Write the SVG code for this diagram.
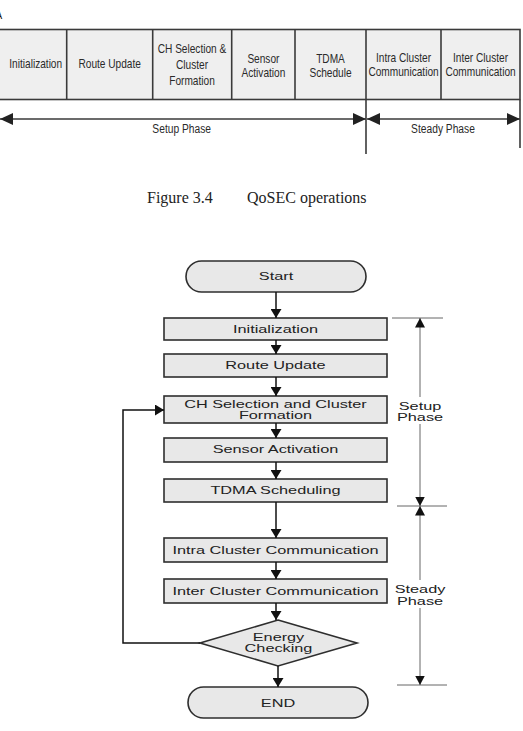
<svg xmlns="http://www.w3.org/2000/svg" width="523" height="731" viewBox="0 0 523 731">
<style>
  .bar { fill:#efefef; stroke:#3a3a3a; stroke-width:1.6; }
  .div { stroke:#3a3a3a; stroke-width:1.6; }
  .ln { stroke:#3a3a3a; stroke-width:1.6; fill:none; }
  .tt { font-family:"Liberation Sans", Arial, sans-serif; font-size:12.5px; fill:#2a2a2a; text-anchor:middle; }
  .box { fill:#e8e8e8; stroke:#2e2e2e; stroke-width:1.6; }
  .ft { font-family:"Liberation Sans", Arial, sans-serif; font-size:11px; fill:#222; text-anchor:middle; }
  .cn { stroke:#111; stroke-width:1.5; fill:none; }
  .dim { stroke:#666; stroke-width:1; fill:none; }
  .cap { font-family:"Liberation Serif", "Times New Roman", serif; font-size:16px; fill:#222; }
</style>
<defs>
  <marker id="ah" markerWidth="10" markerHeight="11" refX="9" refY="5.5" orient="auto" markerUnits="userSpaceOnUse">
    <path d="M0,0 L9,5.5 L0,11 Z" fill="#111"/>
  </marker>
  <marker id="ahd" markerWidth="10" markerHeight="10" refX="9.5" refY="5" orient="auto" markerUnits="userSpaceOnUse">
    <path d="M0,0 L9.5,5 L0,10 Z" fill="#111"/>
  </marker>
  <marker id="aht" markerWidth="14" markerHeight="12" refX="13" refY="6" orient="auto" markerUnits="userSpaceOnUse">
    <path d="M0,0 L13,6 L0,12 Z" fill="#222"/>
  </marker>
</defs>

<!-- Top operations bar -->
<g id="bar">
  <text x="-4.5" y="18.5" font-family="Liberation Sans, Arial, sans-serif" font-size="10" fill="#111">A</text>
  <rect class="bar" x="-2" y="29.5" width="522" height="70"/>
  <line class="div" x1="66.7" y1="29.5" x2="66.7" y2="99.5"/>
  <line class="div" x1="152.7" y1="29.5" x2="152.7" y2="99.5"/>
  <line class="div" x1="231.7" y1="29.5" x2="231.7" y2="99.5"/>
  <line class="div" x1="295" y1="29.5" x2="295" y2="99.5"/>
  <line class="div" x1="366" y1="29.5" x2="366" y2="99.5"/>
  <line class="div" x1="441" y1="29.5" x2="441" y2="99.5"/>
</g>
<g id="op-init"><text class="tt" transform="translate(35.7 68.3) scale(0.81 1)">Initialization</text></g>
<g id="op-route"><text class="tt" transform="translate(109.7 68.3) scale(0.81 1)">Route Update</text></g>
<g id="op-ch">
  <text class="tt" transform="translate(192 53.3) scale(0.81 1)">CH Selection &amp;</text>
  <text class="tt" transform="translate(192 69.2) scale(0.81 1)">Cluster</text>
  <text class="tt" transform="translate(192 85.1) scale(0.81 1)">Formation</text>
</g>
<g id="op-sensor">
  <text class="tt" transform="translate(263.4 62.6) scale(0.81 1)">Sensor</text>
  <text class="tt" transform="translate(263.4 77.3) scale(0.81 1)">Activation</text>
</g>
<g id="op-tdma">
  <text class="tt" transform="translate(330.5 62.6) scale(0.81 1)">TDMA</text>
  <text class="tt" transform="translate(330.5 77.3) scale(0.81 1)">Schedule</text>
</g>
<g id="op-intra">
  <text class="tt" transform="translate(403.5 61.7) scale(0.81 1)">Intra Cluster</text>
  <text class="tt" transform="translate(403.5 76.3) scale(0.81 1)">Communication</text>
</g>
<g id="op-inter">
  <text class="tt" transform="translate(480.5 61.7) scale(0.81 1)">Inter Cluster</text>
  <text class="tt" transform="translate(480.5 76.3) scale(0.81 1)">Communication</text>
</g>
<g id="bar-phases">
  <line class="ln" x1="183" y1="119" x2="0" y2="119" marker-end="url(#aht)"/>
  <line class="ln" x1="183" y1="119" x2="366" y2="119" marker-end="url(#aht)"/>
  <line class="ln" x1="443" y1="119" x2="367" y2="119" marker-end="url(#aht)"/>
  <line class="ln" x1="443" y1="119" x2="520" y2="119" marker-end="url(#aht)"/>
  <line class="ln" x1="366" y1="99.5" x2="366" y2="154"/>
  <line class="ln" x1="520" y1="99.5" x2="520" y2="148"/>
  <text class="tt" font-size="12" transform="translate(181.7 133.3) scale(0.82 1)">Setup Phase</text>
  <text class="tt" font-size="12" transform="translate(443 133.3) scale(0.82 1)">Steady Phase</text>
</g>

<!-- Caption -->
<g id="caption">
  <text class="cap" x="147" y="203.3">Figure 3.4</text>
  <text class="cap" x="247" y="203.3">QoSEC operations</text>
</g>

<!-- Flowchart nodes -->
<g id="start">
  <rect class="box" x="186" y="261" width="180" height="31" rx="15.5" ry="15.5"/>
  <text class="ft" transform="translate(276 280) scale(1.48 1)">Start</text>
</g>
<g id="initialization">
  <rect class="box" x="164" y="318" width="223" height="22"/>
  <text class="ft" transform="translate(275.5 332.5) scale(1.48 1)">Initialization</text>
</g>
<g id="route-update">
  <rect class="box" x="164" y="354" width="223" height="23"/>
  <text class="ft" transform="translate(275.5 369) scale(1.48 1)">Route Update</text>
</g>
<g id="ch-selection">
  <rect class="box" x="164" y="396" width="223" height="27"/>
  <text class="ft" transform="translate(275.5 407.6) scale(1.48 1)">CH Selection and Cluster</text>
  <text class="ft" transform="translate(275.5 419) scale(1.48 1)">Formation</text>
</g>
<g id="sensor-activation">
  <rect class="box" x="164" y="438" width="223" height="24"/>
  <text class="ft" transform="translate(275.5 453.3) scale(1.48 1)">Sensor Activation</text>
</g>
<g id="tdma-scheduling">
  <rect class="box" x="164" y="479" width="223" height="23"/>
  <text class="ft" transform="translate(275.5 494) scale(1.48 1)">TDMA Scheduling</text>
</g>
<g id="intra-cluster">
  <rect class="box" x="164" y="538" width="223" height="24"/>
  <text class="ft" transform="translate(275.5 554.3) scale(1.48 1)">Intra Cluster Communication</text>
</g>
<g id="inter-cluster">
  <rect class="box" x="164" y="579" width="223" height="24"/>
  <text class="ft" transform="translate(275.5 595) scale(1.48 1)">Inter Cluster Communication</text>
</g>
<g id="energy-checking">
  <polygon class="box" points="278,620 357,643 278,666 200,643"/>
  <text class="ft" transform="translate(278.5 640.6) scale(1.48 1)">Energy</text>
  <text class="ft" transform="translate(278.5 652) scale(1.48 1)">Checking</text>
</g>
<g id="end">
  <rect class="box" x="188" y="687" width="180" height="31" rx="15.5" ry="15.5"/>
  <text class="ft" transform="translate(278 706.6) scale(1.48 1)">END</text>
</g>

<!-- Connectors -->
<g id="connectors">
  <line class="cn" x1="276" y1="292" x2="276" y2="318" marker-end="url(#ah)"/>
  <line class="cn" x1="276" y1="340" x2="276" y2="354" marker-end="url(#ah)"/>
  <line class="cn" x1="276" y1="377" x2="276" y2="396" marker-end="url(#ah)"/>
  <line class="cn" x1="276" y1="423" x2="276" y2="438" marker-end="url(#ah)"/>
  <line class="cn" x1="276" y1="462" x2="276" y2="479" marker-end="url(#ah)"/>
  <line class="cn" x1="276" y1="502" x2="276" y2="538" marker-end="url(#ah)"/>
  <line class="cn" x1="276" y1="562" x2="276" y2="579" marker-end="url(#ah)"/>
  <line class="cn" x1="276" y1="603" x2="276" y2="620" marker-end="url(#ah)"/>
  <line class="cn" x1="278" y1="666" x2="278" y2="687" marker-end="url(#ah)"/>
  <polyline class="cn" points="200,643 123,643 123,410 164,410" marker-end="url(#ah)"/>
</g>

<!-- Phase dimension lines -->
<g id="phases">
  <line class="dim" x1="392" y1="318" x2="443" y2="318"/>
  <line class="dim" x1="397" y1="506" x2="447" y2="506"/>
  <line class="dim" x1="397" y1="685" x2="447" y2="685"/>
  <line class="dim" x1="420" y1="397" x2="420" y2="318" marker-end="url(#ahd)"/>
  <line class="dim" x1="420" y1="424" x2="420" y2="506" marker-end="url(#ahd)"/>
  <line class="dim" x1="420" y1="580" x2="420" y2="506" marker-end="url(#ahd)"/>
  <line class="dim" x1="420" y1="608" x2="420" y2="685" marker-end="url(#ahd)"/>
  <text class="ft" transform="translate(420 410) scale(1.48 1)">Setup</text>
  <text class="ft" transform="translate(420 421.3) scale(1.48 1)">Phase</text>
  <text class="ft" transform="translate(420 593) scale(1.48 1)">Steady</text>
  <text class="ft" transform="translate(420 605) scale(1.48 1)">Phase</text>
</g>
</svg>
